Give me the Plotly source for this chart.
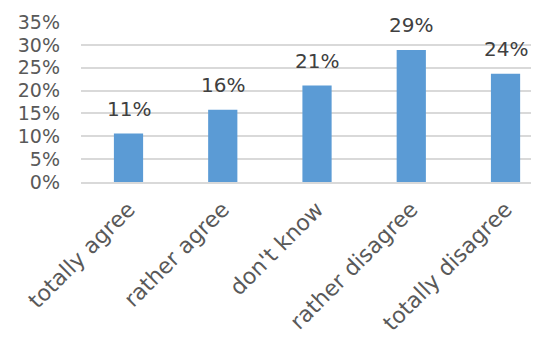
import plotly.graph_objects as go

categories = ["totally agree", "rather agree", "don't know", "rather disagree", "totally disagree"]
values = [0.106, 0.158, 0.211, 0.289, 0.237]
labels = ["11%", "16%", "21%", "29%", "24%"]
y_ticks = [0, 0.05, 0.10, 0.15, 0.20, 0.25, 0.30, 0.35]

FONT = "DejaVu Sans"

fig = go.Figure()
fig.add_trace(go.Bar(
    x=categories, y=values, marker_color="#5B9BD5", width=0.31,
    marker_line_width=0,
))
for c, v, t in zip(categories, values, labels):
    fig.add_annotation(x=c, y=v, text=t, showarrow=False, yanchor="bottom",
                       yshift=11, font=dict(family=FONT, size=20, color="#404040"))

fig.update_layout(
    width=539, height=341,
    margin=dict(l=73, r=0, t=14, b=167),
    paper_bgcolor="white", plot_bgcolor="white",
    showlegend=False,
    font=dict(family=FONT, color="#595959"),
)
fig.update_yaxes(range=[0, 0.35], tickvals=y_ticks, tickformat=".0%",
                 showgrid=True, gridcolor="#D9D9D9", gridwidth=1.5,
                 zeroline=False, showline=False, ticks="",
                 ticklabelstandoff=20, automargin=False,
                 tickfont=dict(family=FONT, size=19, color="#595959"))
fig.update_xaxes(range=[-0.504, 4.44], tickangle=-45, showline=True,
                 linecolor="#D9D9D9", linewidth=1.5, ticks="",
                 automargin=False, ticklabelstandoff=4,
                 tickfont=dict(family=FONT, size=22, color="#595959"))

fig.write_html("out.html")
